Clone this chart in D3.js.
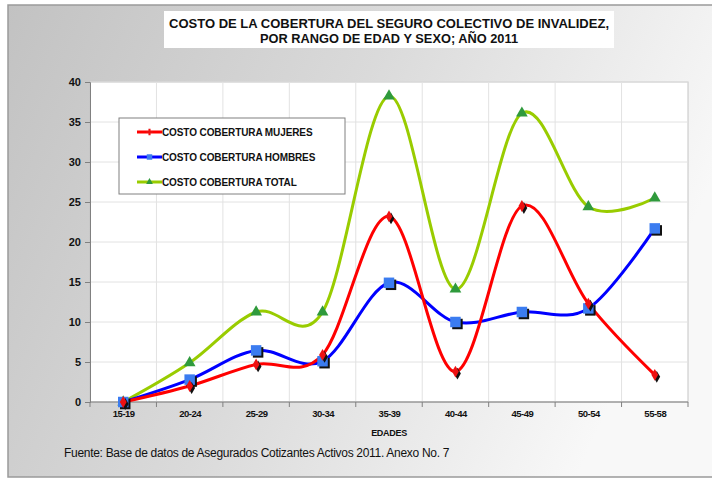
<!DOCTYPE html>
<html>
<head>
<meta charset="utf-8">
<script src="https://cdn.jsdelivr.net/npm/d3@7"></script>
<style>
  html, body { margin: 0; padding: 0; background: #ffffff; }
  svg { display: block; }
</style>
</head>
<body>
<svg id="chart" width="712" height="479"></svg>
<script>
// Age ranges and cost series (millions)
const categories = ["15-19", "20-24", "25-29", "30-34", "35-39", "40-44", "45-49", "50-54", "55-58"];
const mujeres = [0, 2.0, 4.7, 5.9, 23.2, 3.8, 24.5, 12.3, 3.4];
const hombres = [0, 2.8, 6.45, 5.1, 14.9, 10.0, 11.25, 11.7, 21.7];
const total = [0, 4.9, 11.25, 11.25, 38.25, 14.1, 36.1, 24.4, 25.5];
const yTicks = [0, 5, 10, 15, 20, 25, 30, 35, 40];
const seriesNames = ["COSTO COBERTURA  MUJERES", "COSTO COBERTURA  HOMBRES", "COSTO COBERTURA  TOTAL"];

(function () {
const svg = d3.select("#chart");
const sans = "'Liberation Sans', Arial, sans-serif";

// Panel background with a horizontal gray-to-white gradient
const defs = svg.append("defs");
const grad = defs.append("linearGradient").attr("id", "bg").attr("x1", "0").attr("x2", "1").attr("y1", "0").attr("y2", "0.3");
grad.append("stop").attr("offset", "0").attr("stop-color", "#c2c2c2");
grad.append("stop").attr("offset", "0.5").attr("stop-color", "#dadada");
grad.append("stop").attr("offset", "1").attr("stop-color", "#f8f8f8");
svg.append("rect").attr("x", 8).attr("y", 5).attr("width", 720).attr("height", 472)
  .attr("fill", "url(#bg)").attr("stroke", "#9a9a9a").attr("stroke-width", 1.5);

// Title box and condensed bold title, centred over the plot
const cx0 = 389;
svg.append("rect").attr("x", 164).attr("y", 11).attr("width", 450).attr("height", 37).attr("fill", "#ffffff");
const title = svg.append("text").attr("text-anchor", "middle").attr("font-family", sans)
  .attr("font-weight", "bold").attr("font-size", 13.5).attr("fill", "#111");
title.append("tspan").attr("x", cx0).attr("y", 28)
  .attr("textLength", 440).attr("lengthAdjust", "spacingAndGlyphs")
  .text("COSTO DE LA COBERTURA  DEL SEGURO COLECTIVO DE INVALIDEZ,");
title.append("tspan").attr("x", cx0).attr("y", 43)
  .attr("textLength", 258).attr("lengthAdjust", "spacingAndGlyphs")
  .text("POR RANGO DE EDAD Y SEXO; AÑO 2011");

// Plot area
const pL = 90, pR = 688, pT = 82, pB = 402;
const x = d3.scalePoint().domain(categories).range([pL, pR]).padding(0.5);
const band = (pR - pL) / categories.length;
const y = d3.scaleLinear().domain([0, 40]).range([pB, pT]);

svg.append("rect").attr("x", pL).attr("y", pT).attr("width", pR - pL).attr("height", pB - pT)
  .attr("fill", "#ffffff").attr("stroke", "#c4c4c4");

// Gridlines
const grid = svg.append("g").attr("stroke", "#e2e2e2").attr("stroke-width", 1);
grid.selectAll("line.h").data(yTicks.slice(1)).join("line").attr("class", "h")
  .attr("x1", pL).attr("x2", pR).attr("y1", d => y(d)).attr("y2", d => y(d));
grid.selectAll("line.v").data(categories.slice(1)).join("line").attr("class", "v")
  .attr("x1", d => x(d) - band / 2).attr("x2", d => x(d) - band / 2).attr("y1", pT).attr("y2", pB);

// Y axis
const yAxis = svg.append("g").attr("transform", `translate(${pL},0)`)
  .call(d3.axisLeft(y).tickValues(yTicks).tickSize(5).tickPadding(4));
yAxis.select(".domain").attr("stroke", "#808080");
yAxis.selectAll(".tick line").attr("stroke", "#808080");
yAxis.selectAll("text").attr("font-family", sans).attr("font-weight", "bold").attr("font-size", 11).attr("fill", "#111");

// X axis: ticks on band boundaries, labels at band centres
const xAxis = svg.append("g").attr("transform", `translate(0,${pB})`)
  .call(d3.axisBottom(x).tickSize(0).tickPadding(8));
xAxis.select(".domain").attr("stroke", "#808080").attr("d", `M${pL},0H${pR}`);
xAxis.selectAll("text").attr("font-family", sans).attr("font-weight", "bold").attr("font-size", 9.5).attr("fill", "#111").attr("letter-spacing", "-0.5");
svg.append("g").attr("stroke", "#808080").selectAll("line")
  .data(d3.range(categories.length + 1)).join("line")
  .attr("x1", i => pL + i * band).attr("x2", i => pL + i * band)
  .attr("y1", pB).attr("y2", pB + 5);

svg.append("text").attr("x", 389).attr("y", 436).attr("text-anchor", "middle")
  .attr("font-family", sans).attr("font-weight", "bold").attr("font-size", 9).attr("fill", "#111")
  .attr("letter-spacing", "-0.3").text("EDADES");

svg.append("text").attr("x", 64).attr("y", 457)
  .attr("font-family", sans).attr("font-size", 12).attr("fill", "#111").attr("letter-spacing", "-0.3")
  .text("Fuente:  Base de datos de Asegurados Cotizantes Activos 2011.   Anexo No. 7");

// Series lines (smoothed)
const line = d3.line().x((d, i) => x(categories[i])).y(d => y(d)).curve(d3.curveCardinal.tension(0));
const series = [
  { name: seriesNames[0], values: mujeres, color: "#ff0000" },
  { name: seriesNames[1], values: hombres, color: "#0000ff" },
  { name: seriesNames[2], values: total, color: "#99cc00" }
];

// Draw total first, then hombres, then mujeres on top
[series[2], series[1], series[0]].forEach(s => {
  svg.append("path").attr("d", line(s.values)).attr("fill", "none")
    .attr("stroke", s.color).attr("stroke-width", 3);
});

const diamond = d3.symbol().type(d3.symbolDiamond).size(40);
const square = d3.symbol().type(d3.symbolSquare).size(110);
const triangle = d3.symbol().type(d3.symbolTriangle).size(60);

// Markers: diamonds (mujeres), squares (hombres), triangles (total)
function markers(values, sym, fill, shadow) {
  const g = svg.append("g");
  values.forEach((v, i) => {
    const cx = x(categories[i]), cy = y(v);
    if (shadow) {
      g.append("path").attr("d", sym()).attr("fill", "#111")
        .attr("transform", `translate(${cx + 2},${cy + 2})`);
    }
    g.append("path").attr("d", sym()).attr("fill", fill)
      .attr("transform", `translate(${cx},${cy})`);
  });
}
markers(total, triangle, "#2f9a3c", false);
markers(hombres, square, "#3b7cf0", true);
markers(mujeres, diamond, "#ee1111", true);

// Legend
const lg = svg.append("g");
lg.append("rect").attr("x", 119).attr("y", 118).attr("width", 226).attr("height", 76)
  .attr("fill", "#ffffff").attr("stroke", "#808080");
const legendY = [132, 157, 182];
const legendMarks = [
  { sym: d3.symbol().type(d3.symbolCross).size(22), fill: "#ee1111" },
  { sym: d3.symbol().type(d3.symbolSquare).size(30), fill: "#3b7cf0" },
  { sym: d3.symbol().type(d3.symbolTriangle).size(20), fill: "#2f9a3c" }
];
series.forEach((s, i) => {
  const ly = legendY[i];
  lg.append("line").attr("x1", 137).attr("x2", 162).attr("y1", ly).attr("y2", ly)
    .attr("stroke", s.color).attr("stroke-width", 3);
  lg.append("path").attr("d", legendMarks[i].sym()).attr("fill", legendMarks[i].fill)
    .attr("transform", `translate(149.5,${ly})`);
  lg.append("text").attr("x", 162).attr("y", ly + 3.5)
    .attr("font-family", sans).attr("font-weight", "bold").attr("font-size", 10).attr("fill", "#111")
    .attr("letter-spacing", "-0.1").text(s.name);
});
})();
</script>
</body>
</html>
